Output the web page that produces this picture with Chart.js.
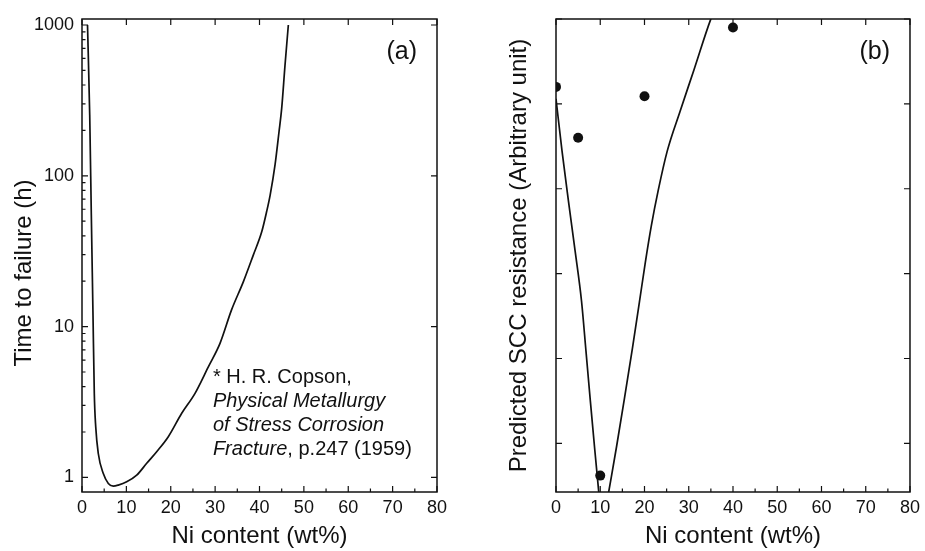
<!DOCTYPE html>
<html>
<head>
<meta charset="utf-8">
<script src="https://cdn.jsdelivr.net/npm/chart.js@4.4.0/dist/chart.umd.min.js"></script>
<style>
  html, body { margin: 0; padding: 0; background: #fff; }
  #wrap { position: relative; width: 925px; height: 551px; }
  canvas { position: absolute; top: 0; }
  #chartA { left: 0; }
  #chartB { left: 462px; }
</style>
</head>
<body>
<div id="wrap">
  <canvas id="chartA" width="462" height="551"></canvas>
  <canvas id="chartB" width="463" height="551"></canvas>
</div>
<script>
// Panel (a): time to failure vs Ni content
const niA = [1.24, 1.74, 2.10, 2.48, 2.77, 3.09, 3.67, 4.80, 5.93, 7.05, 8.18,
             10.07, 12.33, 14.58, 16.83, 19.45, 22.47, 25.47, 28.47, 31.1, 33.7, 36.35, 38.6,
             40.5, 41.6, 42.4, 43.5, 44.4, 45.0, 45.75, 46.5];
const hoursA = [1000, 253, 55, 11.9, 3.61, 2.17, 1.44, 1.06, 0.912, 0.875, 0.889,
                0.935, 1.035, 1.24, 1.48, 1.86, 2.66, 3.61, 5.41, 7.74, 12.9, 19.8, 29.8,
                42.5, 57.7, 74.5, 118, 196, 280, 542, 1000];

// Panel (b): predicted SCC resistance curve (arbitrary unit)
const niB = [0, 1.35, 2.80, 4.31, 5.76, 6.77, 7.76, 8.79, 9.64, 10.45,
             11.95, 13.68, 15.47, 17.27, 18.84, 20.18, 21.53, 23.10, 25.12, 28.03,
             31.17, 34.92, 37];
const resistB = [4.06, 3.45, 2.86, 2.27, 1.68, 1.09, 0.50, -0.09, -0.56, -1.01,
                 -0.56, -0.04, 0.53, 1.12, 1.66, 2.13, 2.56, 2.98, 3.44, 3.91,
                 4.40, 4.99, 5.25];

// Panel (b): measured points
const niPts = [0, 5, 10, 20, 40];
const resistPts = [4.20, 3.60, -0.38, 4.09, 4.90];

// Axis ticks
const xTicks = [0, 10, 20, 30, 40, 50, 60, 70, 80];
const xMinorTicks = [5, 15, 25, 35, 45, 55, 65, 75];
const yTicksA = [1, 10, 100, 1000];
const yMinorA = [2, 3, 4, 5, 6, 7, 8, 9, 20, 30, 40, 50, 60, 70, 80, 90, 200, 300, 400, 500, 600, 700, 800, 900];
const yTicksB = [0, 1, 2, 3, 4, 5];

const citation = [
    [{ text: '* H. R. Copson,', italic: false }],
    [{ text: 'Physical Metallurgy', italic: true }],
    [{ text: 'of Stress Corrosion', italic: true }],
    [{ text: 'Fracture', italic: true }, { text: ', p.247 (1959)', italic: false }]
];

const FONT = "'Liberation Sans', Arial, Helvetica, sans-serif";
const INK = '#111';
Chart.defaults.font.family = FONT;
Chart.defaults.color = INK;

function toPoints(xs, ys) {
    return xs.map((x, i) => ({ x: x, y: ys[i] }));
}

// Frame and inward tick marks, drawn from the chart's own scales
function frameTicks(opts) {
    return {
        id: 'frameTicks',
        afterDatasetsDraw(chart) {
            const { ctx, chartArea: a, scales: { x, y } } = chart;
            ctx.save();
            ctx.strokeStyle = INK;
            ctx.lineWidth = 1.5;
            ctx.strokeRect(a.left, a.top, a.right - a.left, a.bottom - a.top);

            ctx.lineWidth = 1.2;
            ctx.beginPath();
            xTicks.forEach(v => {
                const px = x.getPixelForValue(v);
                ctx.moveTo(px, a.bottom); ctx.lineTo(px, a.bottom - 6);
                ctx.moveTo(px, a.top); ctx.lineTo(px, a.top + 6);
            });
            xMinorTicks.forEach(v => {
                const px = x.getPixelForValue(v);
                ctx.moveTo(px, a.bottom); ctx.lineTo(px, a.bottom - 3.5);
            });
            opts.yMajor.forEach(v => {
                const py = y.getPixelForValue(v);
                ctx.moveTo(a.left, py); ctx.lineTo(a.left + 6, py);
                ctx.moveTo(a.right, py); ctx.lineTo(a.right - 6, py);
            });
            (opts.yMinor || []).forEach(v => {
                const py = y.getPixelForValue(v);
                ctx.moveTo(a.left, py); ctx.lineTo(a.left + 3.5, py);
            });
            ctx.stroke();

            // Panel letter
            ctx.fillStyle = INK;
            ctx.font = '25px ' + FONT;
            ctx.textAlign = 'right';
            ctx.textBaseline = 'middle';
            ctx.fillText(opts.panel, a.right - 20, a.top + 33);

            if (opts.extra) opts.extra(chart);
            ctx.restore();
        }
    };
}

function drawCitation(chart) {
    const { ctx, chartArea: a, scales: { x } } = chart;
    const left = x.getPixelForValue(29.5);
    let base = a.bottom - 109;
    ctx.textAlign = 'left';
    ctx.textBaseline = 'alphabetic';
    citation.forEach(line => {
        let cx = left;
        line.forEach(seg => {
            ctx.font = (seg.italic ? 'italic ' : '') + '20px ' + FONT;
            ctx.fillText(seg.text, cx, base);
            cx += ctx.measureText(seg.text).width;
        });
        base += 24;
    });

    // y-axis title of panel (a)
    ctx.save();
    ctx.font = '24px ' + FONT;
    ctx.textAlign = 'center';
    ctx.textBaseline = 'middle';
    ctx.translate(24, 273);
    ctx.rotate(-Math.PI / 2);
    ctx.fillText('Time to failure (h)', 0, 0);
    ctx.restore();
}

function xScale(titleText) {
    return {
        type: 'linear',
        min: 0,
        max: 80,
        afterBuildTicks: s => { s.ticks = xTicks.map(v => ({ value: v })); },
        afterFit: s => { s.height = 59; },
        grid: { display: false, drawTicks: false },
        border: { display: false },
        ticks: { padding: 5, font: { size: 18 }, color: INK, maxRotation: 0, autoSkip: false },
        title: { display: true, text: titleText, color: INK, font: { size: 24 }, padding: { top: 0, bottom: 0 } }
    };
}

// Panel (a)
new Chart(document.getElementById('chartA'), {
    type: 'scatter',
    data: {
        datasets: [{
            data: toPoints(niA, hoursA),
            showLine: true,
            borderColor: INK,
            borderWidth: 1.7,
            pointRadius: 0,
            cubicInterpolationMode: 'monotone',
            clip: 0
        }]
    },
    options: {
        responsive: false,
        animation: false,
        events: [],
        layout: { padding: { top: 19, right: 25, left: 0, bottom: 0 } },
        plugins: { legend: { display: false }, tooltip: { enabled: false } },
        scales: {
            x: xScale('Ni content (wt%)'),
            y: {
                type: 'logarithmic',
                min: 0.8,
                max: 1096,
                afterBuildTicks: s => { s.ticks = yTicksA.map(v => ({ value: v })); },
                afterFit: s => { s.width = 82; },
                grid: { display: false, drawTicks: false },
                border: { display: false },
                ticks: { padding: 8, font: { size: 18 }, color: INK, callback: v => String(v) },
                title: { display: false }
            }
        }
    },
    plugins: [frameTicks({ panel: '(a)', yMajor: yTicksA, yMinor: yMinorA, extra: drawCitation })]
});

// Panel (b)
new Chart(document.getElementById('chartB'), {
    type: 'scatter',
    data: {
        datasets: [{
            data: toPoints(niB, resistB),
            showLine: true,
            borderColor: INK,
            borderWidth: 1.7,
            pointRadius: 0,
            cubicInterpolationMode: 'monotone',
            clip: 0
        }, {
            data: toPoints(niPts, resistPts),
            showLine: false,
            backgroundColor: INK,
            borderColor: INK,
            borderWidth: 0,
            pointRadius: 5,
            clip: 0
        }]
    },
    options: {
        responsive: false,
        animation: false,
        events: [],
        layout: { padding: { top: 19, right: 12, left: 0, bottom: 0 } },
        plugins: { legend: { display: false }, tooltip: { enabled: false } },
        scales: {
            x: xScale('Ni content (wt%)'),
            y: {
                type: 'linear',
                min: -0.573,
                max: 5,
                afterBuildTicks: s => { s.ticks = yTicksB.map(v => ({ value: v })); },
                afterFit: s => { s.width = 94; },
                grid: { display: false, drawTicks: false },
                border: { display: false },
                ticks: { display: false },
                title: {
                    display: true,
                    text: 'Predicted SCC resistance (Arbitrary unit)',
                    color: INK,
                    font: { size: 24 },
                    padding: { top: 43, bottom: 0 }
                }
            }
        }
    },
    plugins: [frameTicks({ panel: '(b)', yMajor: yTicksB })]
});
</script>
</body>
</html>
